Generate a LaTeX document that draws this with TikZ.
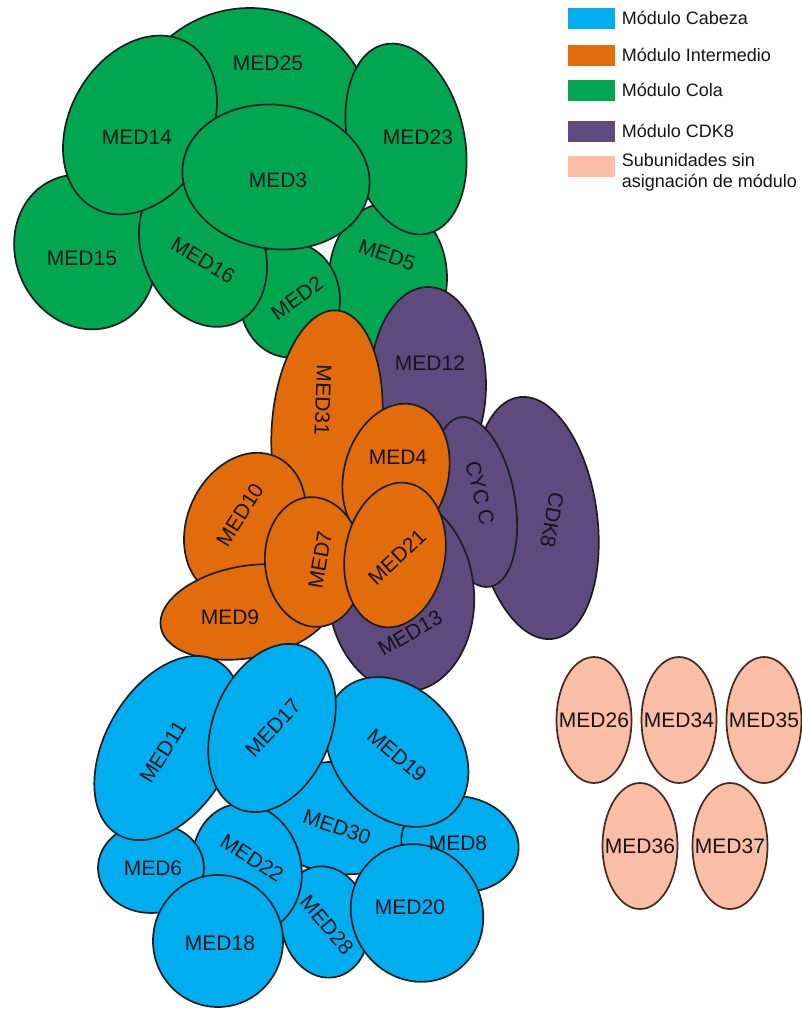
\documentclass[tikz,border=0pt]{standalone}
\usepackage{fontspec}
\setmainfont{Liberation Sans}
\usepackage{xcolor}
\definecolor{headc}{RGB}{0,174,239}
\definecolor{midc}{RGB}{226,108,12}
\definecolor{tailc}{RGB}{0,166,80}
\definecolor{kinc}{RGB}{95,74,128}
\definecolor{freec}{RGB}{250,190,166}
\definecolor{outl}{RGB}{25,30,32}
\definecolor{freeo}{RGB}{70,40,30}
\definecolor{txt}{RGB}{20,20,25}
\usetikzlibrary{positioning,shapes.geometric}
\tikzset{
  subu/.style={ellipse,draw=outl,line width=1.7pt,inner sep=0pt},
  el/.style n args={3}{minimum width=#1pt,minimum height=#2pt,rotate=#3},
  headmod/.style={subu,fill=headc},
  midmod/.style={subu,fill=midc},
  tailmod/.style={subu,fill=tailc},
  kinmod/.style={subu,fill=kinc},
  freemod/.style={subu,fill=freec,draw=freeo},
  lab/.style={font=\fontsize{21}{24}\selectfont,text=txt,inner sep=0pt},
  swatch/.style={minimum width=47pt,minimum height=21pt,inner sep=0pt},
  keytext/.style={font=\fontsize{18}{21}\selectfont,text=txt,inner sep=0pt,align=left},
}

\begin{document}
\begin{tikzpicture}[x=1pt,y=-1pt]
\useasboundingbox (0,0) rectangle (802,1012);
% tail module
\node[tailmod,el={138}{158}{25}] (med15) at (85,252) {};
\node[tailmod,el={250}{250}{0}] (med25) at (250,133) {};
\node[tailmod,el={118}{150}{0}] (med5) at (388,278) {};
\node[tailmod,el={116}{194}{13}] (med23) at (406,139) {};
\node[tailmod,el={100}{115}{0}] (med2) at (290,300) {};
\node[tailmod,el={120}{160}{25}] (med16) at (203,250) {};
\node[tailmod,el={140}{190}{-30}] (med14) at (140,125) {};
\node[tailmod,el={188}{144}{-8}] (med3) at (276,177) {};
\node[lab] (t15) at (82,258) {MED15};
\node[lab] (t25) at (268,63) {MED25};
\node[lab,rotate=-19] (t5) at (387,255) {MED5};
\node[lab] (t23) at (418,137) {MED23};
\node[lab,rotate=36] (t2) at (297,298) {MED2};
\node[lab,rotate=-31] (t16) at (203,260) {MED16};
\node[lab] (t14) at (137,137) {MED14};
\node[lab] (t3) at (278,180) {MED3};
% CDK8 module
\node[kinmod,el={116}{196}{0}] (med12) at (428,385) {};
\node[kinmod,el={122}{244}{8}] (cdk8) at (536,518) {};
\node[kinmod,el={80}{172}{10}] (cycc) at (475,502) {};
\node[kinmod,el={146}{196}{5}] (med13) at (401,594) {};
\node[lab] (t12) at (430,363) {MED12};
\node[lab,rotate=-100] (tcdk8) at (552,520) {CDK8};
\node[lab,rotate=-76] (tcycc) at (480,493) {CYC C};
\node[lab,rotate=30] (t13) at (410,633) {MED13};
% middle module
\node[midmod,el={110}{230}{-5}] (med31) at (327,425) {};
\node[midmod,el={115}{150}{-25}] (med10) at (245,525) {};
\node[midmod,el={175}{92}{10}] (med9) at (247,612) {};
\node[midmod,el={104}{145}{-15}] (med4) at (396,475) {};
\node[midmod,el={98}{130}{5}] (med7) at (314,562) {};
\node[midmod,el={100}{146}{-10}] (med21) at (395,555) {};
\node[lab,rotate=-92] (t31) at (323,400) {MED31};
\node[lab,rotate=58] (t10) at (240,515) {MED10};
\node[lab] (t9) at (230,617) {MED9};
\node[lab] (t4) at (398,457) {MED4};
\node[lab,rotate=80] (t7) at (320,560) {MED7};
\node[lab,rotate=43] (t21) at (397,557) {MED21};
% head module
\node[headmod,el={165}{112}{-5}] (med30) at (342,818) {};
\node[headmod,el={118}{95}{-10}] (med8) at (460,844) {};
\node[headmod,el={125}{165}{40}] (med19) at (397,752) {};
\node[headmod,el={88}{112}{10}] (med28) at (325,922) {};
\node[headmod,el={108}{130}{15}] (med22) at (247,868) {};
\node[headmod,el={106}{90}{0}] (med6) at (151,868) {};
\node[headmod,el={125}{200}{-30}] (med11) at (168,748) {};
\node[headmod,el={118}{175}{-22}] (med17) at (272,728) {};
\node[headmod,el={130}{132}{0}] (med18) at (218,941) {};
\node[headmod,el={130}{140}{30}] (med20) at (417,913) {};
\node[lab,rotate=-19] (t30) at (337,827) {MED30};
\node[lab] (t8) at (458,843) {MED8};
\node[lab,rotate=-40] (t19) at (397,755) {MED19};
\node[lab,rotate=-50] (t28) at (327,925) {MED28};
\node[lab,rotate=-33] (t22) at (252,858) {MED22};
\node[lab] (t6) at (153,868) {MED6};
\node[lab,rotate=58] (t11) at (163,752) {MED11};
\node[lab,rotate=47] (t17) at (273,728) {MED17};
\node[lab] (t18) at (220,943) {MED18};
\node[lab] (t20) at (410,907) {MED20};
% subunits without module
\node[freemod,el={75}{126}{0}] (med26) at (594,720) {};
\node[freemod,el={75}{126}{0}] (med34) at (679,720) {};
\node[freemod,el={75}{126}{0}] (med35) at (764,720) {};
\node[freemod,el={75}{126}{0}] (med36) at (640,846) {};
\node[freemod,el={75}{126}{0}] (med37) at (730,846) {};
\node[lab] (t26) at (med26) {MED26};
\node[lab] (t34) at (med34) {MED34};
\node[lab] (t35) at (med35) {MED35};
\node[lab] (t36) at (med36) {MED36};
\node[lab] (t37) at (med37) {MED37};
% legend
\node[swatch,fill=headc] (k1) at (591,18) {};
\node[swatch,fill=midc] (k2) at (591,55) {};
\node[swatch,fill=tailc] (k3) at (591,90) {};
\node[swatch,fill=kinc] (k4) at (591,131) {};
\node[swatch,fill=freec] (k5) at (591,166) {};
\node[keytext,right=7pt of k1] (k1t) {Módulo Cabeza};
\node[keytext,right=7pt of k2] (k2t) {Módulo Intermedio};
\node[keytext,right=7pt of k3] (k3t) {Módulo Cola};
\node[keytext,right=7pt of k4] (k4t) {Módulo CDK8};
\node[keytext,right=7pt of k5,yshift=-6pt] (k5t) {Subunidades sin\\asignación de módulo};
\end{tikzpicture}
\end{document}
